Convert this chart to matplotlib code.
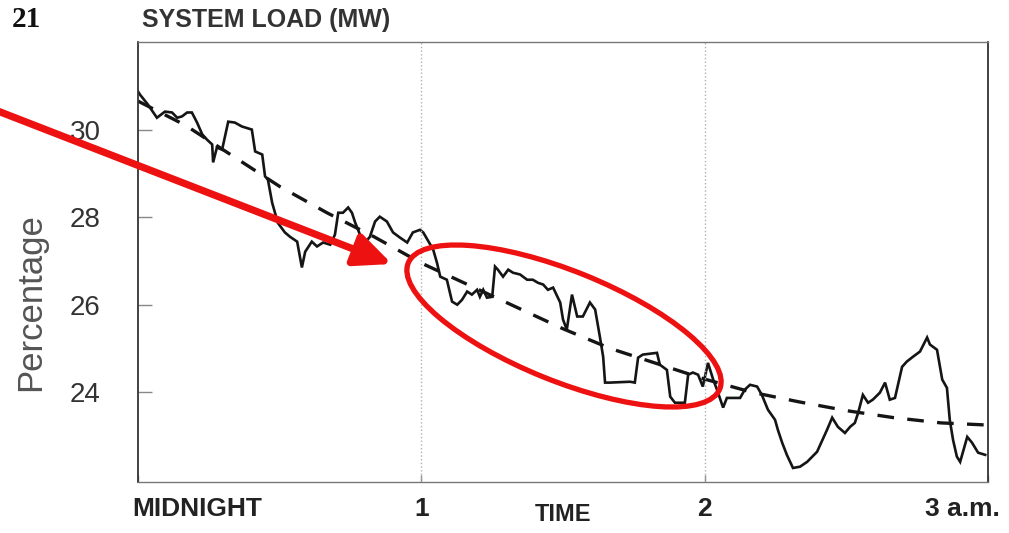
import matplotlib
matplotlib.use('Agg')
import matplotlib.pyplot as plt
import matplotlib.transforms as mtransforms
from matplotlib.patches import Ellipse, FancyArrowPatch

# minutes after midnight and system load (MW)
time_min = [0, 0.4, 2.1, 4.0, 5.7, 7.2, 8.3, 9.3, 10.4, 11.4, 12.5, 13.6, 14.6, 15.7, 15.9,
            16.7, 17.8, 18.4, 19.1, 20.5, 22.0, 24.1, 24.8, 26.3, 26.9, 27.5, 28.4, 29.6,
            31.1, 32.2, 33.7, 34.7, 35.4, 36.8, 37.9, 39.2, 40.7, 41.7, 42.4, 43.4, 44.5,
            45.3, 46.0, 47.0, 48.1, 49.1, 50.2, 51.2, 52.7, 54.0, 55.5, 57.0, 58.2, 59.7,
            60.4, 62.5, 63.3, 64.0, 65.4, 66.5, 67.6, 68.6, 69.7, 70.7, 71.8, 72.4, 73.1,
            73.9, 75.0, 75.6, 76.2, 77.3, 78.4, 79.4, 80.9, 82.4, 83.6, 84.7, 85.8, 86.8,
            87.9, 89.4, 90.0, 90.8, 91.9, 93.0, 94.2, 95.7, 96.8, 97.8, 98.5, 98.9, 99.9,
            104.2, 105.2, 105.9, 106.9, 109.9, 110.5, 112.0, 112.7, 113.7, 115.8, 116.5,
            117.5, 118.6, 119.6, 120.7, 121.8, 122.6, 123.9, 124.7, 127.5, 128.5, 129.6,
            131.1, 132.1, 133.4, 134.9, 135.5, 136.4, 137.4, 138.7, 140.2, 141.7, 143.8,
            145.9, 147.0, 148.2, 149.7, 150.8, 151.8, 152.5, 153.5, 154.6, 155.6, 157.1,
            158.2, 159.2, 160.3, 161.8, 162.8, 164.1, 165.6, 167.1, 167.7, 169.2, 170.3,
            171.3, 171.9, 172.6, 173.4, 174.1, 175.6, 176.6, 177.9, 179.4]
load_mw = [30.87, 30.80, 30.57, 30.27, 30.41, 30.39, 30.27, 30.30, 30.39, 30.39, 30.16, 29.89,
           29.77, 29.66, 29.25, 29.59, 29.54, 29.84, 30.18, 30.16, 30.07, 30.00, 29.50, 29.43,
           28.93, 28.86, 28.33, 27.87, 27.65, 27.55, 27.44, 26.85, 27.21, 27.44, 27.33, 27.42,
           27.37, 27.60, 28.10, 28.10, 28.22, 28.10, 27.87, 27.60, 27.42, 27.55, 27.90, 28.01,
           27.90, 27.65, 27.53, 27.42, 27.65, 27.71, 27.65, 27.26, 26.96, 26.64, 26.57, 26.07,
           26.00, 26.11, 26.30, 26.23, 26.34, 26.18, 26.34, 26.16, 26.18, 26.87, 26.80, 26.64,
           26.80, 26.73, 26.69, 26.57, 26.57, 26.50, 26.46, 26.34, 26.39, 26.05, 25.66, 25.43,
           26.23, 25.73, 25.73, 26.05, 25.89, 25.27, 24.81, 24.22, 24.22, 24.24, 24.22, 24.79,
           24.86, 24.90, 24.63, 24.51, 23.90, 23.76, 23.76, 24.40, 24.45, 24.40, 24.13, 24.67,
           24.29, 24.06, 23.65, 23.87, 23.87, 24.06, 24.17, 24.13, 23.94, 23.60, 23.37, 23.14,
           22.85, 22.57, 22.27, 22.30, 22.41, 22.64, 23.14, 23.42, 23.21, 23.07, 23.21, 23.30,
           23.53, 23.94, 23.76, 23.83, 23.99, 24.22, 23.83, 23.87, 24.58, 24.70, 24.81, 24.93,
           25.25, 25.09, 24.97, 24.29, 24.10, 23.37, 22.91, 22.53, 22.41, 22.98, 22.85, 22.62,
           22.57]

# dashed trend line
trend_min = [0, 10, 20, 30, 40, 50, 60, 70, 80, 90, 100, 110, 120, 130, 140, 150, 160, 170, 180]
trend_mw = [30.65, 30.1, 29.4, 28.7, 28.1, 27.55, 26.95, 26.45, 25.95, 25.45, 25.0, 24.65,
            24.3, 24.0, 23.78, 23.58, 23.42, 23.3, 23.25]

x_ticks = [0, 60, 120, 180]
x_labels = ['MIDNIGHT', '1', '2', '3 a.m.']
y_ticks = [24, 26, 28, 30]

fig = plt.figure(figsize=(10.09, 5.33), dpi=100)
ax = fig.add_axes([0.1368, 0.0957, 0.8424, 0.8255])

ax.plot(time_min, load_mw, color='#151515', lw=1.9, solid_joinstyle='miter')
ax.plot(trend_min, trend_mw, color='#151515', lw=2.4, dashes=(5, 4))

for t in [60, 120]:
    ax.axvline(t, color='#b0b0b0', lw=1.0, ls=':')

ax.set_xlim(0, 180)
ax.set_ylim(21.95, 32)

for side in ['left', 'right']:
    ax.spines[side].set_color('#333333')
    ax.spines[side].set_linewidth(1.3)
for side in ['top', 'bottom']:
    ax.spines[side].set_color('#777777')
    ax.spines[side].set_linewidth(1.0)

ax.set_yticks(y_ticks)
ax.set_yticklabels([str(v) for v in y_ticks], fontsize=20, color='#333333',
                   family='Liberation Sans')
ax.tick_params(axis='y', direction='in', length=10, width=1, color='#888888', pad=27)

ax.set_xticks(x_ticks)
ax.set_xticklabels(x_labels, fontsize=19, fontweight='bold', color='#222222',
                   family=['Liberation Sans Narrow', 'Liberation Sans'])
ax.tick_params(axis='x', direction='in', length=5, width=1, color='#888888', pad=11)
labels = ax.get_xticklabels()
labels[0].set_horizontalalignment('left')
labels[0].set_transform(labels[0].get_transform() +
                        mtransforms.ScaledTranslation(-0.06, 0, fig.dpi_scale_trans))
labels[-1].set_horizontalalignment('right')
labels[-1].set_transform(labels[-1].get_transform() +
                         mtransforms.ScaledTranslation(0.12, 0, fig.dpi_scale_trans))

ax.text(90, -0.075, 'TIME', transform=ax.get_xaxis_transform(), ha='center', va='center',
        fontsize=17, fontweight='bold', color='#222222',
        family=['Liberation Sans Narrow', 'Liberation Sans'])

ax.set_ylabel('Percentage', fontsize=25, color='#555555', family='Liberation Sans')
ax.yaxis.set_label_coords(-0.107, 0.41)

# figure number and panel heading
fig.text(12 / 1009, 1 - 6 / 533, '21', ha='left', va='top', fontsize=21,
         fontweight='bold', family='Liberation Serif', color='#111111')
fig.text(142 / 1009, 1 - 8 / 533, 'SYSTEM LOAD (MW)', ha='left', va='top', fontsize=18,
         fontweight='bold', family='Liberation Sans', color='#333333')

# red highlight: arrow and ellipse (inch coordinates, y up)
red = '#ee1111'
arrow = FancyArrowPatch((-0.1, 4.25), (3.92, 2.69), transform=fig.dpi_scale_trans,
                        arrowstyle='-|>,head_length=1.0,head_width=0.45', mutation_scale=22,
                        color=red, lw=5.2, shrinkA=0, shrinkB=0)
fig.patches.append(arrow)
ell = Ellipse((5.64, 2.07), 3.36, 1.10, angle=-22, transform=fig.dpi_scale_trans,
              fill=False, edgecolor=red, lw=3.8)
fig.patches.append(ell)

plt.savefig('out.png', dpi=100)
plt.close()
